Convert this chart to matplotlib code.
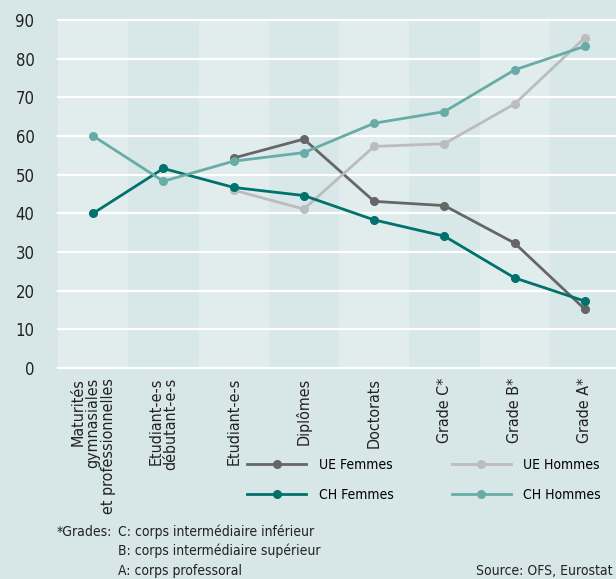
import numpy as np
import matplotlib
matplotlib.use('Agg')
import matplotlib.pyplot as plt

plt.rcParams['font.family'] = ['DejaVu Sans']
plt.rcParams['font.stretch'] = 'condensed'

categories = ['Maturités\ngymnasiales\net professionnelles', 'Etudiant-e-s\ndébutant-e-s',
			  'Etudiant-e-s', 'Diplômes', 'Doctorats', 'Grade C*', 'Grade B*', 'Grade A*']

ue_femmes = [np.nan, np.nan, 54.3, 59.2, 43.1, 42.0, 32.3, 15.2]
ue_hommes = [np.nan, np.nan, 46.0, 41.1, 57.3, 58.0, 68.3, 85.4]
ch_femmes = [40.0, 51.6, 46.7, 44.6, 38.3, 34.1, 23.3, 17.3]
ch_hommes = [60.0, 48.3, 53.5, 55.7, 63.3, 66.3, 77.1, 83.2]

yticks = [0, 10, 20, 30, 40, 50, 60, 70, 80, 90]

bg = '#d7e6e6'
band_light = '#e1ecec'
band_dark = '#d8e7e7'

c_uef = '#666666'
c_ueh = '#bcbcbc'
c_chf = '#00716c'
c_chh = '#68aca8'

W, H = 616, 579
fig = plt.figure(figsize=(W / 100, H / 100), dpi=100, facecolor=bg)
ax = fig.add_axes([58 / W, 1 - 368 / H, 562 / W, 348 / H])
ax.set_facecolor(bg)

x = np.arange(len(categories))
for i in x:
	ax.axvspan(i - 0.5, i + 0.5, color=band_light if i % 2 == 0 else band_dark, lw=0, zorder=0)

for t in yticks:
	ax.axhline(t, color='white', lw=1.6, zorder=1, clip_on=False)

series = [
	('UE Femmes', ue_femmes, c_uef),
	('UE Hommes', ue_hommes, c_ueh),
	('CH Femmes', ch_femmes, c_chf),
	('CH Hommes', ch_hommes, c_chh),
]
handles = {}
for name, vals, col in series:
	h, = ax.plot(x, vals, color=col, lw=2, marker='o', ms=5.5, zorder=3, label=name)
	handles[name] = h

ax.set_xlim(-0.5, len(categories) - 0.5)
ax.set_ylim(0, 90)
ax.set_yticks(yticks)
ax.set_yticklabels([str(t) for t in yticks], fontsize=12, color='#222222')
ax.tick_params(axis='y', length=0, pad=17)

ax.set_xticks(x)
ax.set_xticklabels(categories, rotation=90, fontsize=11.5, color='#222222',
				   va='top', ha='center', multialignment='right', linespacing=1.0)
ax.tick_params(axis='x', length=0, pad=7)

for s in ax.spines.values():
	s.set_visible(False)

# legend
order = ['UE Femmes', 'CH Femmes', 'UE Hommes', 'CH Hommes']
fig.legend([handles[n] for n in order], order, ncol=2, frameon=False,
		   loc='upper left', bbox_to_anchor=(247 / W, 1 - 458 / H),
		   fontsize=10, handlelength=4.25, handletextpad=0.9,
		   columnspacing=4.2, labelspacing=1.15, borderaxespad=0, borderpad=0)

# footnotes
fs = 10
fig.text(57 / W, 1 - 532 / H, '*Grades:', fontsize=fs, va='center', color='#222222')
fig.text(118 / W, 1 - 532 / H, 'C: corps intermédiaire inférieur', fontsize=fs, va='center', color='#222222')
fig.text(118 / W, 1 - 551 / H, 'B: corps intermédiaire supérieur', fontsize=fs, va='center', color='#222222')
fig.text(118 / W, 1 - 571 / H, 'A: corps professoral', fontsize=fs, va='center', color='#222222')
fig.text(476 / W, 1 - 571 / H, 'Source: OFS, Eurostat', fontsize=fs, va='center', color='#222222')

fig.savefig('out.png', dpi=100, facecolor=bg)
